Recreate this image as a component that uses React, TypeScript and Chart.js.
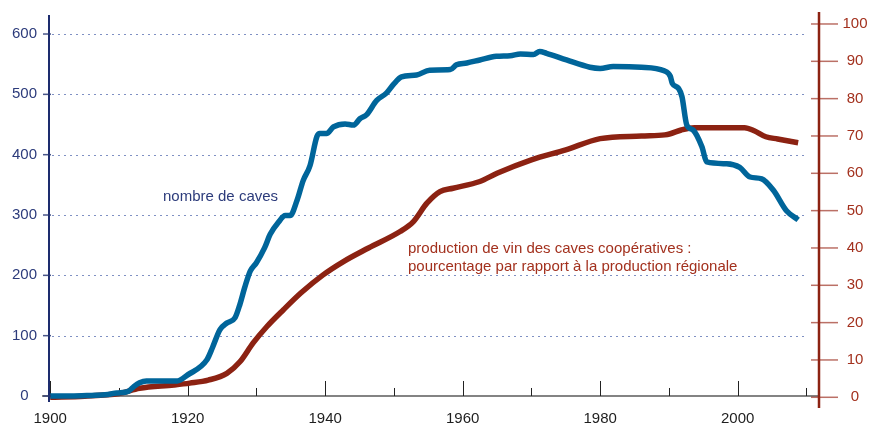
import React, { useEffect, useRef } from "react";
import { Chart, registerables } from "chart.js";

Chart.register(...registerables);

// ---- data ----
const caveYears = [1900, 1903, 1906, 1908, 1909.7, 1911.4, 1912.2, 1913, 1914, 1918.5, 1920, 1922.8, 1923.6, 1924.7, 1925.7, 1926.9, 1927.6, 1928.3, 1929.1, 1930, 1931.2, 1932, 1933.2, 1934.2, 1934.9, 1935.9, 1936.8, 1937.8, 1938.8, 1939.2, 1940.2, 1941.2, 1942.9, 1944.1, 1945.1, 1946, 1947.5, 1948.9, 1949.9, 1951.1, 1953.3, 1955.2, 1958.2, 1959.1, 1960.6, 1962.5, 1964.9, 1966.9, 1968.4, 1970.3, 1971.2, 1972.2, 1975.1, 1978.5, 1980, 1981.9, 1986, 1989.3, 1990.2, 1990.5, 1991.4, 1991.9, 1992.6, 1993.5, 1994.8, 1995.5, 1998.4, 2000.3, 2001.8, 2003.5, 2005.2, 2007.1, 2008.8];
const caveCounts = [0, 0, 1, 2, 5, 8, 16, 22, 25, 25, 35, 60, 80, 110, 121, 130, 152, 180, 207, 221, 246, 268, 288, 299, 299, 324, 357, 382, 430, 435, 435, 446, 451, 449, 460, 466, 490, 502, 516, 529, 532, 540, 541, 549, 552, 557, 563, 564, 567, 566, 571, 568, 557, 545, 543, 546, 545, 539, 530, 518, 510, 496, 449, 441, 413, 388, 385, 379, 363, 360, 341, 307, 292];

const prodYears = [1900, 1905, 1910, 1913, 1918, 1920.3, 1923, 1925.7, 1927.6, 1929.5, 1931.5, 1933.9, 1936.5, 1939.7, 1942.6, 1946.3, 1950.9, 1952.8, 1954.8, 1956.7, 1958.6, 1962.5, 1965, 1970, 1975, 1980, 1986, 1989.4, 1990.2, 1991.8, 1993.7, 2001, 2002.4, 2004.1, 2005.8, 2008.8];
const prodShare = [0, 0.3, 1, 2.4, 3.3, 3.8, 4.6, 6.4, 9.5, 14.5, 18.9, 23.4, 28, 32.8, 36.3, 40, 44.4, 47, 52, 55.1, 56, 57.8, 60, 63.6, 66.3, 69.3, 70, 70.3, 70.6, 71.6, 72.2, 72.2, 71.4, 69.8, 69.2, 68.2];

const xLabelYears = [1900, 1920, 1940, 1960, 1980, 2000];
const xTickYears = [1900, 1910, 1920, 1930, 1940, 1950, 1960, 1970, 1980, 1990, 2000, 2010];
const leftTicks = [0, 100, 200, 300, 400, 500, 600];
const rightTicks = [0, 10, 20, 30, 40, 50, 60, 70, 80, 90, 100];

const caveLabel = "nombre de caves";
const prodLabel1 = "production de vin des caves coopératives :";
const prodLabel2 = "pourcentage par rapport à la production régionale";

// ---- styles ----
const FONT = "'Liberation Sans', Arial, sans-serif";
const BLUE = "#00659a";
const RED = "#8c2212";
const NAVY = "#1d2c6e";
const NAVY_TEXT = "#2c3b7b";
const RED_TEXT = "#a3311e";

const X_MIN = 1899.83;
const X_MAX = 2011.83;
const L_MIN = -19.9;
const L_MAX = 636.5;
const R_MIN = -2.87;
const R_MAX = 103.21;

const zeroPad = (s: any) => {
  s.paddingTop = 0;
  s.paddingBottom = 0;
  s.paddingLeft = 0;
  s.paddingRight = 0;
};

const decor = {
  id: "decor",
  beforeDatasetsDraw(chart: any) {
    const { ctx, chartArea } = chart;
    const xs = chart.scales.x;
    const yL = chart.scales.yL;
    ctx.save();
    // dotted grid
    ctx.strokeStyle = "rgba(105,125,185,0.85)";
    ctx.lineWidth = 1;
    ctx.setLineDash([2, 4]);
    for (const v of leftTicks) {
      if (v === 0) continue;
      const y = Math.round(yL.getPixelForValue(v)) + 0.5;
      ctx.beginPath();
      ctx.moveTo(chartArea.left + 3, y);
      ctx.lineTo(chartArea.right - 14, y);
      ctx.stroke();
    }
    ctx.setLineDash([]);
    // baseline
    const by = yL.getPixelForValue(0);
    ctx.strokeStyle = "#5a5a5a";
    ctx.lineWidth = 1.5;
    ctx.beginPath();
    ctx.moveTo(chartArea.left - 7, by);
    ctx.lineTo(chartArea.right, by);
    ctx.stroke();
    // x ticks (upwards)
    ctx.strokeStyle = "#222";
    ctx.lineWidth = 1;
    for (const yr of xTickYears) {
      const x = Math.round(xs.getPixelForValue(yr)) + 0.5;
      const len = yr % 20 === 0 ? 15 : 8;
      ctx.beginPath();
      ctx.moveTo(x, by);
      ctx.lineTo(x, by - len);
      ctx.stroke();
    }
    ctx.restore();
  },
  afterDatasetsDraw(chart: any) {
    const { ctx, chartArea } = chart;
    const yL = chart.scales.yL;
    const yR = chart.scales.yR;
    ctx.save();
    // left axis
    ctx.strokeStyle = NAVY;
    ctx.lineWidth = 2;
    ctx.beginPath();
    ctx.moveTo(chartArea.left, chartArea.top + 3);
    ctx.lineTo(chartArea.left, chartArea.bottom - 6);
    ctx.stroke();
    ctx.lineWidth = 1.5;
    ctx.strokeStyle = "rgba(40,55,115,0.85)";
    for (const v of leftTicks) {
      const y = yL.getPixelForValue(v);
      ctx.beginPath();
      ctx.moveTo(chartArea.left - 6, y);
      ctx.lineTo(chartArea.left + 2, y);
      ctx.stroke();
    }
    // right axis
    ctx.strokeStyle = RED;
    ctx.lineWidth = 2.5;
    ctx.beginPath();
    ctx.moveTo(chartArea.right, chartArea.top);
    ctx.lineTo(chartArea.right, chartArea.bottom);
    ctx.stroke();
    ctx.lineWidth = 1.5;
    ctx.strokeStyle = "rgba(150,35,20,0.65)";
    for (const v of rightTicks) {
      const y = yR.getPixelForValue(v);
      ctx.beginPath();
      ctx.moveTo(chartArea.right - 8, y);
      ctx.lineTo(chartArea.right + 19, y);
      ctx.stroke();
    }
    // annotations
    ctx.font = `15px ${FONT}`;
    ctx.textBaseline = "middle";
    ctx.textAlign = "left";
    ctx.fillStyle = NAVY_TEXT;
    ctx.fillText(caveLabel, 163, 196.5);
    ctx.fillStyle = RED_TEXT;
    ctx.fillText(prodLabel1, 408, 248.5);
    ctx.fillText(prodLabel2, 408, 267);
    ctx.restore();
  },
};

export default function App() {
  const ref = useRef<HTMLCanvasElement | null>(null);
  useEffect(() => {
    if (!ref.current) return;
    const chart = new Chart(ref.current, {
      type: "line",
      data: {
        datasets: [
          {
            label: caveLabel,
            data: caveYears.map((x, i) => ({ x, y: caveCounts[i] })),
            yAxisID: "yL",
            borderColor: BLUE,
            borderWidth: 5.5,
            pointRadius: 0,
            cubicInterpolationMode: "monotone",
            borderJoinStyle: "round",
            fill: false,
          },
          {
            label: prodLabel1,
            data: prodYears.map((x, i) => ({ x, y: prodShare[i] })),
            yAxisID: "yR",
            borderColor: RED,
            borderWidth: 5.5,
            pointRadius: 0,
            cubicInterpolationMode: "monotone",
            borderJoinStyle: "round",
            fill: false,
          },
        ],
      },
      options: {
        animation: false,
        responsive: false,
        devicePixelRatio: 1,
        layout: { padding: { top: 12, left: 0, right: 0, bottom: 0 } },
        plugins: { legend: { display: false }, tooltip: { enabled: false } },
        scales: {
          x: {
            type: "linear",
            min: X_MIN,
            max: X_MAX,
            grid: { display: false, drawTicks: false },
            border: { display: false },
            ticks: {
              color: "#1e1e1e",
              font: { size: 15, family: FONT },
              padding: 2,
              maxRotation: 0,
              autoSkip: false,
              callback: (v: any) => String(v),
            },
            afterBuildTicks: (s: any) => {
              s.ticks = xLabelYears.map((value) => ({ value }));
            },
            afterFit: (s: any) => {
              s.height = 19;
              zeroPad(s);
            },
          },
          yL: {
            type: "linear",
            position: "left",
            min: L_MIN,
            max: L_MAX,
            grid: { display: false, drawTicks: false },
            border: { display: false },
            ticks: {
              color: NAVY_TEXT,
              font: { size: 15, family: FONT },
              padding: 12,
              crossAlign: "center",
              callback: (v: any) => String(v),
            },
            afterBuildTicks: (s: any) => {
              s.ticks = leftTicks.map((value) => ({ value }));
            },
            afterFit: (s: any) => {
              s.width = 49;
              zeroPad(s);
            },
          },
          yR: {
            type: "linear",
            position: "right",
            min: R_MIN,
            max: R_MAX,
            grid: { display: false, drawTicks: false },
            border: { display: false },
            ticks: {
              color: RED_TEXT,
              font: { size: 15, family: FONT },
              padding: 23.5,
              crossAlign: "center",
              callback: (v: any) => String(v),
            },
            afterBuildTicks: (s: any) => {
              s.ticks = rightTicks.map((value) => ({ value }));
            },
            afterFit: (s: any) => {
              s.width = 51;
              zeroPad(s);
            },
          },
        },
      },
      plugins: [decor],
    } as any);
    return () => chart.destroy();
  }, []);
  return (
    <div style={{ position: "absolute", left: 0, top: 0, width: 870, height: 427, background: "#fff" }}>
      <canvas ref={ref} width={870} height={427} style={{ width: 870, height: 427, display: "block" }} />
    </div>
  );
}
